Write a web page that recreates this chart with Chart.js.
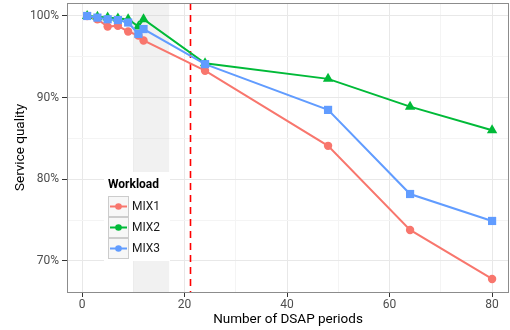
<!DOCTYPE html>
<html>
<head>
<meta charset="utf-8">
<script src="https://cdn.jsdelivr.net/npm/chart.js@4/dist/chart.umd.min.js"></script>
<style>
  html, body { margin: 0; padding: 0; background: #ffffff; }
  #wrap { width: 510px; height: 330px; }
</style>
</head>
<body>
<div id="wrap"><canvas id="c" width="510" height="330"></canvas></div>
<script>
// Number of DSAP periods at which each workload was measured
const periods = [1, 3, 5, 7, 9, 11, 12, 24, 48, 64, 80];

// Service quality (%) per workload
const mix1 = [100.0, 99.6, 98.7, 98.8, 98.1, 97.6, 97.0, 93.3, 84.1, 73.8, 67.8];
const mix2 = [100.0, 99.9, 99.8, 99.7, 99.6, 98.7, 99.6, 94.2, 92.3, 88.9, 86.0];
const mix3 = [100.0, 99.8, 99.6, 99.5, 99.2, 97.8, 98.4, 94.1, 88.5, 78.2, 74.9];

const workloadNames = ['MIX1', 'MIX2', 'MIX3'];
const workloadColors = ['#F8766D', '#00BA38', '#619CFF'];
const workloadMarkers = ['circle', 'triangle', 'rect'];

// Shaded warm-up window and the reference period marker
const shadedRange = [10, 17];
const markerPeriod = 21;

const xTicks = [0, 20, 40, 60, 80];
const yTicks = [70, 80, 90, 100];

const FONT = 'Roboto, "DejaVu Sans", sans-serif';

function toPoints(values) {
  return periods.map((p, i) => ({ x: p, y: values[i] }));
}

const markerRadius = { circle: 4.2, triangle: 6, rect: 5.8 };

const series = [mix1, mix2, mix3];
const datasets = series.map((vals, i) => ({
  label: workloadNames[i],
  data: toPoints(vals),
  borderColor: workloadColors[i],
  backgroundColor: workloadColors[i],
  borderWidth: 2,
  pointStyle: workloadMarkers[i],
  pointRadius: markerRadius[workloadMarkers[i]],
  pointBorderWidth: 0,
  tension: 0,
  order: 2 - i
}));

// Background shading + dashed marker line, drawn under the series
const bandPlugin = {
  id: 'band',
  beforeDatasetsDraw(chart) {
    const { ctx, chartArea: a, scales: { x } } = chart;
    ctx.save();
    ctx.beginPath();
    ctx.rect(a.left, a.top, a.right - a.left, a.bottom - a.top);
    ctx.clip();
    const x0 = x.getPixelForValue(shadedRange[0]);
    const x1 = x.getPixelForValue(shadedRange[1]);
    ctx.fillStyle = 'rgba(200,200,200,0.25)';
    ctx.fillRect(x0, a.top, x1 - x0, a.bottom - a.top);
    const xm = Math.round(x.getPixelForValue(markerPeriod)) + 0.5;
    ctx.strokeStyle = '#FF0000';
    ctx.lineWidth = 1.6;
    ctx.setLineDash([7, 5]);
    ctx.beginPath();
    ctx.moveTo(xm, a.top);
    ctx.lineTo(xm, a.bottom);
    ctx.stroke();
    ctx.restore();
  },
  afterDraw(chart) {
    // panel border
    const { ctx, chartArea: a } = chart;
    ctx.save();
    ctx.strokeStyle = '#8c8c8c';
    ctx.lineWidth = 1;
    ctx.strokeRect(a.left + 0.5, a.top + 0.5, a.right - a.left - 1, a.bottom - a.top);
    ctx.restore();
  }
};

// In-panel legend titled "Workload"
const legendPlugin = {
  id: 'workloadLegend',
  afterDraw(chart) {
    const { ctx } = chart;
    const left = 104, top = 172, w = 66, h = 89;
    ctx.save();
    ctx.fillStyle = '#ffffff';
    ctx.fillRect(left, top, w, h);
    ctx.fillStyle = '#000000';
    ctx.font = 'bold 12px ' + FONT;
    ctx.textBaseline = 'middle';
    ctx.textAlign = 'left';
    ctx.fillText('Workload', 108, 185);
    const keyX = 108, keyW = 21, keyH = 21, keyTop = 196;
    workloadNames.forEach((name, i) => {
      const ky = keyTop + i * keyH;
      ctx.fillStyle = '#f7f7f7';
      ctx.fillRect(keyX, ky, keyW, keyH);
      ctx.strokeStyle = '#cccccc';
      ctx.lineWidth = 1;
      ctx.strokeRect(keyX + 0.5, ky + 0.5, keyW - 1, keyH - 1);
      const cy = ky + keyH / 2;
      ctx.strokeStyle = workloadColors[i];
      ctx.lineWidth = 2;
      ctx.beginPath();
      ctx.moveTo(keyX + 2, cy);
      ctx.lineTo(keyX + keyW - 2, cy);
      ctx.stroke();
      ctx.fillStyle = workloadColors[i];
      ctx.beginPath();
      ctx.arc(keyX + keyW / 2, cy, 3.3, 0, Math.PI * 2);
      ctx.fill();
      ctx.fillStyle = '#1a1a1a';
      ctx.font = '12px ' + FONT;
      ctx.fillText(name, keyX + keyW + 3, cy + 0.5);
    });
    ctx.restore();
  }
};

new Chart(document.getElementById('c'), {
  type: 'line',
  data: { datasets },
  plugins: [bandPlugin, legendPlugin],
  options: {
    responsive: false,
    animation: false,
    layout: { autoPadding: false, padding: { left: 0, right: 1, top: 3, bottom: 0 } },
    plugins: { legend: { display: false }, tooltip: { enabled: false } },
    scales: {
      x: {
        type: 'linear',
        min: -2.93,
        max: 83.3,
        afterBuildTicks(scale) {
          const t = [];
          for (let v = 0; v <= 80; v += 10) t.push({ value: v });
          scale.ticks = t;
        },
        afterFit(scale) {
          scale.height = 38;
          scale.paddingLeft = 0;
          scale.paddingRight = 0;
        },
        border: { display: false },
        grid: {
          color: (c) => (c.tick && c.tick.value % 20 === 0) ? '#e8e8e8' : '#f4f4f4',
          lineWidth: 1,
          drawTicks: true,
          tickLength: 5,
          tickColor: (c) => (c.tick && c.tick.value % 20 === 0) ? '#333333' : 'rgba(0,0,0,0)'
        },
        ticks: {
          autoSkip: false,
          maxRotation: 0,
          padding: 1,
          color: '#4d4d4d',
          font: { family: FONT, size: 12 },
          callback: (v) => xTicks.includes(v) ? String(v) : ''
        },
        title: {
          display: true,
          text: 'Number of DSAP periods',
          color: '#000000',
          font: { family: FONT, size: 13.5 },
          padding: { top: 0, bottom: 2 }
        }
      },
      y: {
        type: 'linear',
        min: 66.2,
        max: 101.59,
        afterBuildTicks(scale) {
          const t = [];
          for (let v = 70; v <= 100; v += 5) t.push({ value: v });
          scale.ticks = t;
        },
        afterFit(scale) {
          scale.width = 67;
          scale.paddingTop = 0;
          scale.paddingBottom = 0;
        },
        border: { display: false },
        grid: {
          color: (c) => (c.tick && c.tick.value % 10 === 0) ? '#e8e8e8' : '#f4f4f4',
          lineWidth: 1,
          drawTicks: true,
          tickLength: 5,
          tickColor: (c) => (c.tick && c.tick.value % 10 === 0) ? '#333333' : 'rgba(0,0,0,0)'
        },
        ticks: {
          autoSkip: false,
          padding: 3,
          color: '#4d4d4d',
          font: { family: FONT, size: 12 },
          callback: (v) => yTicks.includes(v) ? v + '%' : ''
        },
        title: {
          display: true,
          text: 'Service quality',
          color: '#000000',
          font: { family: FONT, size: 13.5 },
          padding: { top: 13, bottom: 0 }
        }
      }
    }
  }
});
</script>
</body>
</html>
